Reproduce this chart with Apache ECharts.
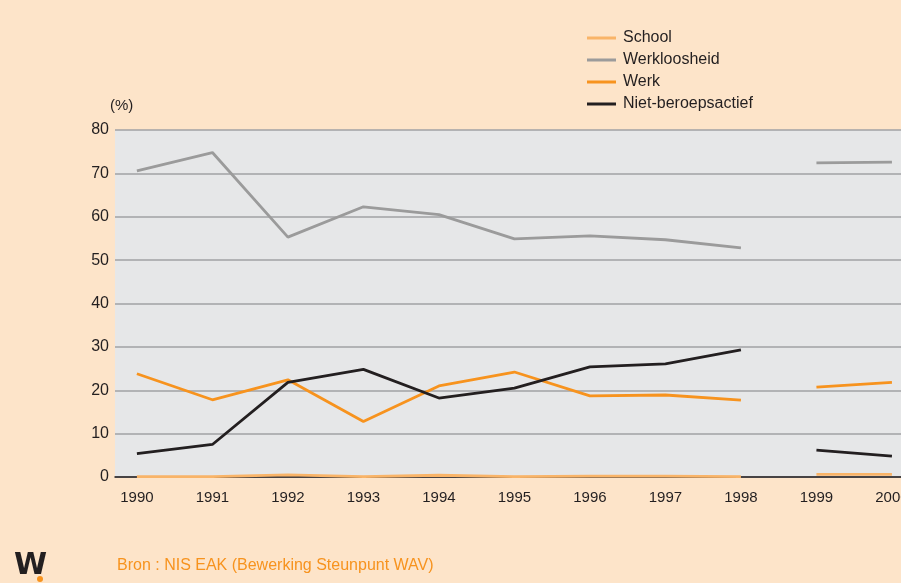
<!DOCTYPE html>
<html><head><meta charset="utf-8">
<script src="https://cdn.jsdelivr.net/npm/echarts@6/dist/echarts.min.js"></script>
<style>html,body{margin:0;padding:0;background:#fde4c9}#c{width:901px;height:583px}</style>
</head><body><div id="c"></div>
<script>
const years = [1990,1991,1992,1993,1994,1995,1996,1997,1998,1999,2000];
const gapAfter = 1998; // series are interrupted between 1998 and 1999
const school = [0.1,0.1,0.5,0.1,0.4,0.1,0.2,0.2,0.1,0.6,0.6];
const werkloosheid = [70.6,74.8,55.3,62.3,60.5,54.9,55.6,54.7,52.8,72.4,72.6];
const werk = [23.8,17.8,22.4,12.8,21.0,24.2,18.7,18.9,17.7,20.7,21.8];
const nietBeroepsactief = [5.4,7.5,21.8,24.8,18.2,20.5,25.4,26.1,29.3,6.2,4.8];
const yTicks = [0,10,20,30,40,50,60,70,80];
const names = ['School','Werkloosheid','Werk','Niet-beroepsactief'];
const colors = ['#f9b468','#9b9b9b','#f7931e','#231f20'];

function build(vals){
  const out = [];
  years.forEach((y,i)=>{
    out.push([y, vals[i]]);
    if (y === gapAfter) out.push([y + 0.5, '-']);
  });
  return out;
}
const seriesVals = [school, werkloosheid, werk, nietBeroepsactief];
const chart = echarts.init(document.getElementById('c'));
const font = '"Liberation Sans",Arial,sans-serif';
chart.setOption({
  backgroundColor:'#fde4c9',
  animation:false,
  grid:{left:115,right:0,top:130,bottom:106,show:true,backgroundColor:'#e6e7e8',borderWidth:0,
        outerBoundsMode:'none',containLabel:false},
  legend:{
    orient:'vertical',left:582,top:22,itemGap:0,itemWidth:29,itemHeight:3,icon:'rect',
    data:names,
    textStyle:{fontFamily:font,fontSize:16,color:'#231f20',lineHeight:22,padding:[0,0,0,2]}
  },
  xAxis:{
    type:'value',min:1989.71,max:2000.12,
    axisLine:{show:true,onZero:false,lineStyle:{color:'#231f20',width:1.5}},
    axisTick:{show:false},splitLine:{show:false},
    axisLabel:{customValues:years,margin:13,fontFamily:font,fontSize:15,color:'#231f20',formatter:v=>String(v)}
  },
  yAxis:{
    type:'value',min:0,max:80,interval:10,
    axisLine:{show:false},axisTick:{show:false},
    axisLabel:{margin:6,fontFamily:font,fontSize:16,color:'#231f20'},
    splitLine:{lineStyle:{color:'#a0a2a5',width:1.5}}
  },
  graphic:[
    {type:'text',left:110,top:98,style:{text:'(%)',font:'15px "Liberation Sans",sans-serif',fill:'#231f20'}},
    {type:'text',left:117,top:558,style:{text:'Bron : NIS EAK (Bewerking Steunpunt WAV)',font:'16px "Liberation Sans",sans-serif',fill:'#f7931e'}},
    {type:'text',left:14,top:551,style:{text:'W',font:'bold 30px "DejaVu Sans",sans-serif',fill:'#231f20'}},
    {type:'circle',shape:{cx:40,cy:579,r:3},style:{fill:'#f7931e'}}
  ],
  series:seriesVals.map((v,i)=>({
    name:names[i],type:'line',data:build(v),symbol:'none',connectNulls:false,
    lineStyle:{color:colors[i],width:2.8},itemStyle:{color:colors[i]},z:2+i
  }))
});
</script></body></html>
